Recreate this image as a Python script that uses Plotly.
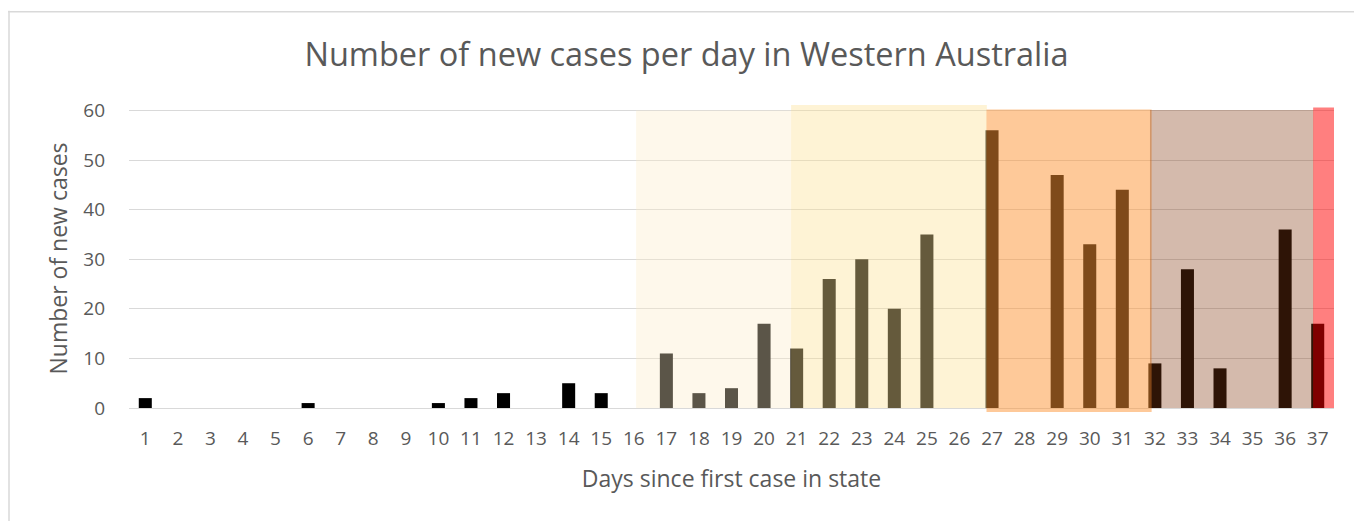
import plotly.graph_objects as go

# ---- data ----
days = [1, 2, 3, 4, 5, 6, 7, 8, 9, 10, 11, 12, 13, 14, 15, 16, 17, 18, 19,
        20, 21, 22, 23, 24, 25, 26, 27, 28, 29, 30, 31, 32, 33, 34, 35, 36, 37]
new_cases = [2, 0, 0, 0, 0, 1, 0, 0, 0, 1, 2, 3, 0, 5, 3, 0, 11, 3, 4,
             17, 12, 26, 30, 20, 35, 0, 56, 0, 47, 33, 44, 9, 28, 8, 0, 36, 17]
y_ticks = [0, 10, 20, 30, 40, 50, 60]

# highlighted phases (in day units)
phase_start = [16.07, 20.83, 26.83, 31.85, 36.86]
phase_end = [20.83, 26.84, 31.90, 36.87, 37.5]
phase_bottom = [0, 0, -0.8, 0, 0]
phase_top = [60, 61.1, 60.2, 60.1, 60.6]
phase_colors = ["rgba(253,236,200,0.36)", "rgba(252,225,150,0.40)",
                "rgba(254,148,52,0.50)", "rgba(131,57,17,0.35)",
                "rgba(255,0,0,0.50)"]

title_text = "Number of new cases per day in Western Australia"
x_title = "Days since first case in state"
y_title = "Number of new cases"

# ---- layout constants (page has an 8px body margin) ----
W, H = 1362, 521
OFF = 8
ML, MR, MT, MB = 129 - OFF, 28 + OFF, 104.5 - OFF, 109 + OFF
FONT = "Open Sans"
GREY = "#595959"

fig = go.Figure()
fig.add_trace(go.Bar(x=days, y=new_cases, width=0.4,
                     marker=dict(color="#000000", line=dict(width=0)),
                     showlegend=False))

for x0, x1, y0, y1, c in zip(phase_start, phase_end, phase_bottom, phase_top, phase_colors):
    fig.add_shape(type="rect", xref="x", yref="y", x0=x0, x1=x1, y0=y0, y1=y1,
                  fillcolor=c, line=dict(width=0), layer="above")

# chart outer border (left and top visible)
pw = W - ML - MR
ph = H - MT - MB
def px_to_paper_x(px):
    return (px - OFF - ML) / pw
def px_to_paper_y(py):
    return (H - MB - (py - OFF)) / ph
fig.add_shape(type="line", xref="paper", yref="paper",
              x0=px_to_paper_x(9), x1=px_to_paper_x(9),
              y0=px_to_paper_y(10), y1=px_to_paper_y(H + OFF),
              line=dict(color="#D9D9D9", width=1.5))
fig.add_shape(type="line", xref="paper", yref="paper",
              x0=px_to_paper_x(8), x1=px_to_paper_x(W + OFF),
              y0=px_to_paper_y(11), y1=px_to_paper_y(11),
              line=dict(color="#D9D9D9", width=1.5))

fig.update_layout(
    width=W, height=H,
    margin=dict(l=ML, r=MR, t=MT, b=MB, pad=0),
    paper_bgcolor="white", plot_bgcolor="white",
    font=dict(family=FONT, color=GREY),
    title=dict(text=title_text, x=(686.5 - OFF) / W, xanchor="center", xref="container",
               y=1 - (55 - OFF) / H, yanchor="middle", yref="container",
               font=dict(size=32.5, color=GREY, family=FONT)),
    bargap=0.6,
)
fig.update_xaxes(range=[0.5, 37.5], tickmode="array", tickvals=days,
                 ticktext=[str(d) for d in days], showgrid=False,
                 zeroline=False, showline=False, ticks="",
                 ticklabelstandoff=13,
                 tickfont=dict(size=19, color=GREY, family=FONT),
                 title=dict(text=x_title, standoff=20,
                            font=dict(size=23, color=GREY, family=FONT)))
fig.update_yaxes(range=[-0.8, 61.1], tickmode="array", tickvals=y_ticks,
                 showgrid=True, gridcolor="#D9D9D9", gridwidth=1.3,
                 zeroline=False, showline=False, ticks="",
                 ticklabelstandoff=23,
                 tickfont=dict(size=19, color=GREY, family=FONT),
                 title=dict(text=y_title, standoff=9,
                            font=dict(size=23, color=GREY, family=FONT)))

fig.write_html("out.html")
